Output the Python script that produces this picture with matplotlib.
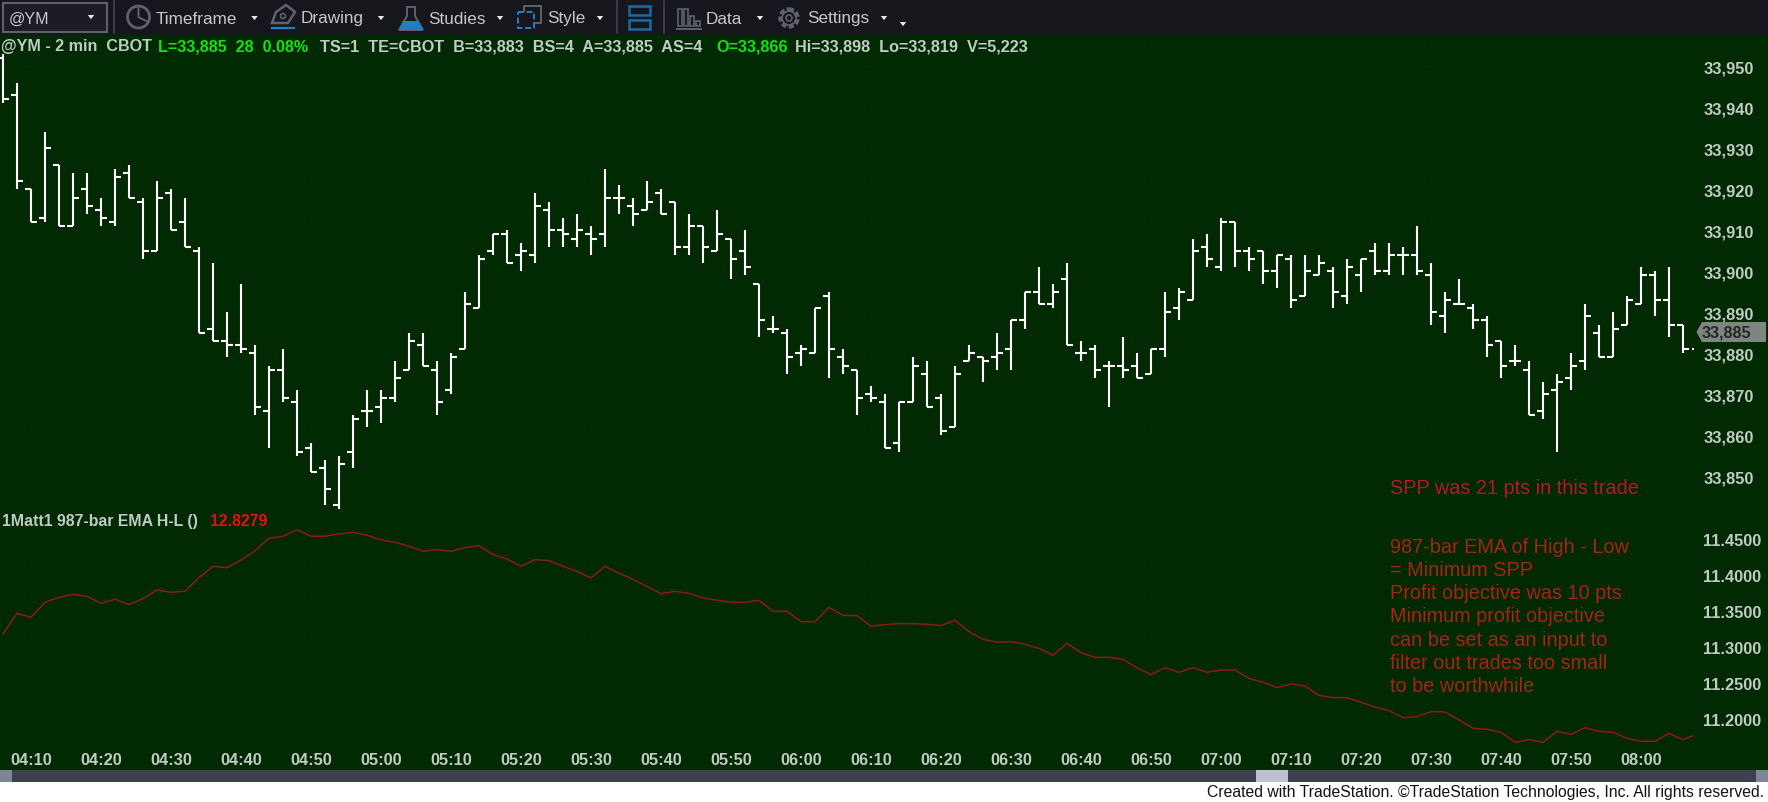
import numpy as np
import matplotlib
matplotlib.use("Agg")
import matplotlib.pyplot as plt
from matplotlib.patches import Rectangle, Polygon, Circle

W, H = 1768, 803

opens = [33952,33943,33920,33913,33926,33911,33920,33915,33912,33924,
33917,33905,33919,33912,33905,33886,33883,33882,33880,33866,
33876,33868,33857,33852,33843,33856,33866,33867,33869,33876,
33882,33876,33871,33881,33891,33905,33909,33904,33904,33915,
33910,33908,33909,33909,33918,33916,33915,33919,33917,33906,
33911,33905,33908,33905,33897,33886,33885,33880,33880,33894,
33879,33876,33870,33868,33858,33868,33875,33869,33862,33878,
33879,33879,33881,33888,33895,33892,33898,33880,33881,33877,
33877,33877,33875,33881,33891,33893,33906,33901,33912,33905,
33905,33900,33903,33894,33899,33900,33894,33899,33905,33900,
33904,33904,33899,33889,33892,33891,33888,33883,33878,33876,
33866,33871,33874,33878,33885,33879,33887,33892,33899,33893,
33887]
highs = [33953,33946,33920,33934,33926,33924,33924,33918,33925,33926,
33918,33922,33920,33918,33906,33902,33890,33897,33882,33877,
33881,33871,33858,33854,33855,33865,33871,33871,33878,33885,
33885,33878,33880,33895,33904,33909,33910,33907,33919,33917,
33913,33914,33911,33925,33921,33918,33922,33920,33917,33914,
33911,33915,33908,33910,33897,33889,33886,33882,33891,33895,
33881,33876,33872,33870,33868,33879,33878,33870,33877,33882,
33879,33885,33888,33895,33901,33897,33902,33883,33882,33878,
33884,33880,33881,33895,33896,33908,33909,33913,33912,33906,
33905,33904,33904,33904,33904,33901,33903,33903,33907,33907,
33906,33911,33902,33895,33898,33892,33889,33883,33882,33878,
33873,33875,33880,33892,33887,33890,33894,33901,33900,33901,
33887]
lows = [33941,33920,33912,33912,33911,33911,33914,33911,33911,33918,
33903,33905,33910,33906,33885,33883,33879,33880,33865,33857,
33868,33855,33851,33843,33842,33852,33862,33863,33868,33876,
33877,33865,33870,33881,33891,33904,33902,33900,33902,33906,
33906,33906,33904,33906,33914,33911,33915,33914,33904,33904,
33902,33905,33898,33899,33884,33885,33875,33877,33880,33874,
33875,33865,33868,33857,33856,33868,33867,33860,33862,33878,
33873,33876,33876,33886,33892,33891,33882,33878,33874,33867,
33874,33874,33875,33879,33888,33893,33901,33900,33901,33900,
33897,33896,33891,33894,33899,33891,33892,33895,33899,33899,
33899,33899,33887,33885,33892,33886,33879,33874,33877,33865,
33864,33856,33871,33876,33879,33879,33887,33892,33889,33884,
33880]
closes = [33942,33922,33912,33930,33911,33918,33916,33913,33923,33918,
33905,33918,33910,33906,33885,33883,33882,33881,33867,33876,
33869,33856,33851,33847,33853,33864,33866,33869,33874,33883,
33877,33868,33879,33892,33903,33909,33902,33905,33916,33910,
33909,33910,33908,33918,33918,33914,33917,33914,33906,33911,
33906,33909,33903,33901,33888,33886,33879,33881,33891,33881,
33877,33869,33869,33857,33868,33877,33867,33861,33875,33880,
33878,33880,33888,33895,33892,33895,33882,33880,33876,33877,
33876,33874,33881,33890,33895,33905,33903,33912,33905,33903,
33900,33904,33893,33900,33902,33895,33901,33903,33900,33904,
33904,33900,33890,33893,33892,33888,33882,33877,33878,33865,
33870,33873,33877,33889,33879,33886,33893,33899,33893,33887,
33881]
ema = [11.3185,11.3472,11.3417,11.3625,11.3694,11.3736,11.3708,11.3611,11.3667,11.3593,
11.3676,11.3796,11.3764,11.3778,11.3968,11.4125,11.4106,11.4213,11.4338,11.4514,
11.4542,11.4634,11.4542,11.4542,11.4574,11.4597,11.4556,11.4491,11.4458,11.4403,
11.4333,11.4356,11.4333,11.4384,11.4412,11.4287,11.4227,11.4125,11.4218,11.4204,
11.4125,11.4056,11.3963,11.4125,11.4028,11.3944,11.3843,11.3745,11.3778,11.3750,
11.3685,11.3653,11.3625,11.3625,11.3653,11.3500,11.3500,11.3356,11.3356,11.3555,
11.3444,11.3440,11.3292,11.3315,11.3329,11.3329,11.3319,11.3301,11.3375,11.3218,
11.3111,11.3069,11.3079,11.3042,11.2986,11.2889,11.3056,11.2926,11.2861,11.2861,
11.2833,11.2717,11.2620,11.2717,11.2653,11.2717,11.2653,11.2685,11.2685,11.2569,
11.2514,11.2440,11.2491,11.2463,11.2333,11.2301,11.2301,11.2236,11.2171,11.2120,
11.2023,11.2037,11.2106,11.2102,11.1990,11.1875,11.1861,11.1819,11.1680,11.1717,
11.1680,11.1833,11.1791,11.1884,11.1833,11.1819,11.1736,11.1694,11.1694,11.1805,
11.1717,11.1773]
price_ticks = [33950,33940,33930,33920,33910,33900,33890,33880,33870,33860,33850]
ema_ticks = [11.45,11.40,11.35,11.30,11.25,11.20]
time_labels = ["04:10","04:20","04:30","04:40","04:50","05:00","05:10","05:20","05:30","05:40",
               "05:50","06:00","06:10","06:20","06:30","06:40","06:50","07:00","07:10","07:20",
               "07:30","07:40","07:50","08:00"]
last_price = 33885

BG = "#012902"; BAR = "#16171d"; TXT = "#c0cbc4"; GRN = "#14e014"; TOOL = "#c6c8cc"
plt.rcParams["font.family"] = ["Liberation Sans", "DejaVu Sans"]
fig = plt.figure(figsize=(W/100, H/100), dpi=100, facecolor="white")

def axpx(x0, y0, x1, y1, **kw):
    return fig.add_axes([x0/W, 1-y1/H, (x1-x0)/W, (y1-y0)/H], **kw)

# chrome underneath
bg = axpx(0, 0, W, H, zorder=0)
bg.set_xlim(0, W); bg.set_ylim(H, 0); bg.axis("off")
bg.add_patch(Rectangle((0, 36), W, 735, fc=BG, ec="none"))
bg.add_patch(Rectangle((0, 0), W, 36, fc=BAR, ec="none"))
bg.add_patch(Rectangle((0, 771), W, 12, fc="#3d414d", ec="none"))
bg.add_patch(Rectangle((0, 771), 12, 12, fc="#7f8599", ec="none"))
bg.add_patch(Rectangle((1256, 771), 32, 12, fc="#bcc0cf", ec="none"))
bg.add_patch(Rectangle((1756, 771), 12, 12, fc="#7f8599", ec="none"))

RIGHT = 1698.0
PXB = 14.0
xleft = (0-3)/PXB; xright = (RIGHT-3)/PXB

# price panel
T0, T1 = 36, 510
ax = axpx(0, T0, RIGHT, T1, zorder=2, facecolor="none")
ax.set_xlim(xleft, xright)
ax.set_ylim(33950-(T1-67.3)/4.1, 33950-(T0-67.3)/4.1)
x = np.arange(len(opens))
ax.vlines(x, lows, highs, color="white", lw=1.5)
ax.hlines(opens, x-0.42, x, color="white", lw=1.5)
ax.hlines(closes, x, x+0.42, color="white", lw=1.5)
ax.hlines([closes[-1]], [x[-1]+0.62], [x[-1]+0.76], color="white", lw=1.5)
ax.set_yticks(price_ticks, [f"{v:,}" for v in price_ticks])
ax.yaxis.tick_right()
ax.set_xticks(np.arange(2, 120, 5))
ax.tick_params(axis="y", length=0, pad=3.7, labelsize=11.8, labelcolor=TXT)
ax.tick_params(axis="x", length=0, labelbottom=False)
for t in ax.get_yticklabels(): t.set_fontweight("bold")

# indicator panel
B0, B1 = 510, 751
ax2 = axpx(0, B0, RIGHT, B1, zorder=2, facecolor="none")
ax2.set_xlim(xleft, xright)
ax2.set_ylim(11.45-(B1-540.3)/720, 11.45-(B0-540.3)/720)
ema_x = np.append(np.arange(len(ema)-1), 120.7)
ax2.plot(ema_x, ema, color="#8c1c10", lw=1.1, solid_joinstyle="miter")
ax2.set_yticks(ema_ticks, [f"{v:.4f}" for v in ema_ticks])
ax2.yaxis.tick_right()
ax2.set_xticks(np.arange(2, 120, 5), time_labels)
ax2.tick_params(axis="y", length=0, pad=3.7, labelsize=11.8, labelcolor=TXT)
ax2.tick_params(axis="x", length=0, pad=1.8, labelsize=11.8, labelcolor=TXT)
for t in ax2.get_yticklabels()+ax2.get_xticklabels(): t.set_fontweight("bold")
for a in (ax, ax2):
    for s in a.spines.values(): s.set_visible(False)
    a.grid(True, color="#0a3a0c", lw=0.5, ls=(0, (1, 6)))
    a.set_axisbelow(True)

# overlay text and toolbar
o = axpx(0, 0, W, H, zorder=3, facecolor="none")
o.set_xlim(0, W); o.set_ylim(H, 0); o.axis("off")
def T(px, py, s, c=TXT, size=11, w="bold", ha="left"):
    o.text(px, py, s, color=c, fontsize=size, fontweight=w, ha=ha, va="center")

# header
T(1, 46.5, "@YM - 2 min  CBOT", size=11.6)
T(158, 46.5, "L=33,885  28  0.08%", GRN, 11.6)
T(319.5, 46.5, "TS=1  TE=CBOT  B=33,883  BS=4  A=33,885  AS=4", size=11.7)
T(716, 46.5, "O=33,866", GRN, 11.7)
T(795, 46.5, "Hi=33,898  Lo=33,819  V=5,223", size=11.7)
T(1.5, 522, "1Matt1 987-bar EMA H-L ()", size=11.4)
T(210, 522, "12.8279", "#e81010", 11.4)

# annotations
T(1389.5, 488.5, "SPP was 21 pts in this trade", "#b5182e", 14.3, "normal")
notes = ["987-bar EMA of High - Low", "= Minimum SPP", "Profit objective was 10 pts",
         "Minimum profit objective", "can be set as an input to",
         "filter out trades too small", "to be worthwhile"]
for ny, n in zip([547.7, 571, 594, 617, 640.3, 663.3, 686.3], notes):
    T(1389.5, ny, n, "#a82410", 14.3, "normal")

# last-price tag
o.add_patch(Polygon([(1696.5,333),(1702,323),(1766,323),(1766,343),(1702,343)],
                    closed=True, fc="#7f8580", ec="none"))
T(1701.7, 333.5, f"{last_price:,}", "#1f2a22", 11.7)

# footer
T(1207, 793, "Created with TradeStation. \u00a9TradeStation Technologies, Inc. All rights reserved.",
  "#111111", 11.3, "normal")

# toolbar
o.add_patch(Rectangle((2.5, 3.5), 104, 29, fc="#1c1d23", ec="#5e6168", lw=1.5))
T(9, 19, "@YM", TOOL, 11.6, "normal")
def arrow(ax_px, ay, r=3.2):
    o.add_patch(Polygon([(ax_px-r, ay-2), (ax_px+r, ay-2), (ax_px, ay+2.2)], closed=True, fc="#e8e8e8", ec="none"))
arrow(91, 18)
for sx in (114, 617, 664):
    o.plot([sx, sx], [2, 34], color="#3c3f46", lw=1.3)
for tx, s, ar in [(156, "Timeframe", 254.5), (301, "Drawing", 381), (428, "Studies", 500),
                  (547, "Style", 600), (706, "Data", 760), (807, "Settings", 884)]:
    T(tx, 19, s, TOOL, 12.3, "normal")
    arrow(ar, 19)
arrow(903, 25)
GI = "#5f6268"; BL = "#1f7fc4"
# clock
o.add_patch(Circle((138.5, 18), 11, fc="none", ec=GI, lw=2))
o.plot([138.5, 138.5, 146], [9, 18, 22], color=GI, lw=1.4)
# drawing
o.add_patch(Polygon([(272, 24), (276, 13), (286, 6), (295, 13), (288, 24)], closed=True, fc="none", ec=GI, lw=1.8))
o.add_patch(Circle((283, 17), 2.5, fc="none", ec=GI, lw=1.2))
o.plot([272, 294], [29, 29], color=BL, lw=1.6)
# flask
o.add_patch(Polygon([(407, 8), (407, 17), (399, 31), (423, 31), (415, 17), (415, 8)], closed=True, fc="none", ec=GI, lw=1.4))
o.add_patch(Polygon([(403, 22), (419, 22), (423, 31), (399, 31)], closed=True, fc=BL, ec="none"))
# style
o.add_patch(Rectangle((518, 13), 16, 16, fc="none", ec=BL, lw=1.4, ls=(0, (3, 1.5))))
o.plot([524, 524, 541, 541, 535], [12, 7, 7, 24, 24], color=GI, lw=1.4)
# layout
o.add_patch(Rectangle((629, 7), 21, 9, fc="none", ec="#1a6aa5", lw=1.8))
o.add_patch(Rectangle((629, 21), 21, 9, fc="none", ec="#1a6aa5", lw=1.8))
# bars
for bx, by in [(678, 10), (684, 10), (690, 17), (696, 22)]:
    o.add_patch(Rectangle((bx, by), 4, 27-by, fc="none", ec=GI, lw=1.2))
o.plot([677, 701], [30, 30], color=GI, lw=1.4)
# gear
o.add_patch(Circle((789, 19), 8.5, fc="none", ec=GI, lw=3.2, ls=(0, (1.1, 0.55))))
o.add_patch(Circle((789, 19), 7, fc="none", ec=GI, lw=1.2))
o.add_patch(Circle((789, 19), 3, fc="none", ec=GI, lw=1.2))

fig.savefig("out.png", dpi=100, facecolor="white")
